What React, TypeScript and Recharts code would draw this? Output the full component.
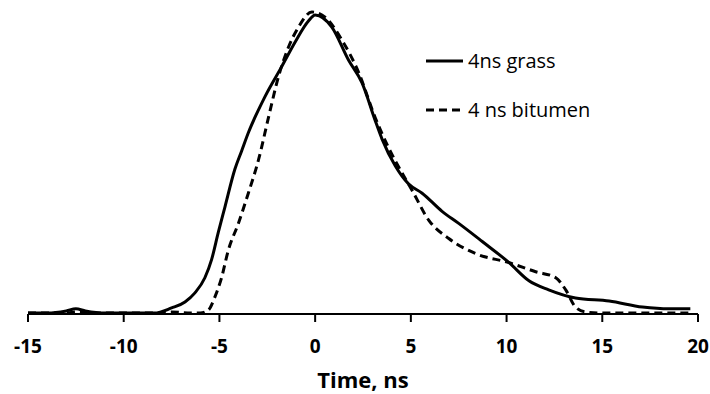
import { LineChart, Line, XAxis, YAxis } from "recharts";

// time axis (ns) and normalised amplitude
const grassTime = [
  -15, -14, -13, -12.5, -12, -11, -10, -9, -8.4, -7.5, -6.8, -6.28, -5.76, -5.41, -5.06, -4.71,
  -4.19, -3.84, -3.49, -2.62, -1.74, -1.05, -0.35, 0, 0.87, 1.75, 2.45, 3.14, 3.49, 4.19, 4.89,
  5.59, 6.63, 7.5, 8.73, 10.13, 11.17, 12.2, 13.6, 15.36, 17.1, 18.5, 19.6,
];
const grassValue = [
  0.003, 0.003, 0.01, 0.017, 0.01, 0.003, 0.003, 0.003, 0.003, 0.02, 0.04, 0.07, 0.12, 0.18, 0.27,
  0.355, 0.48, 0.54, 0.6, 0.72, 0.82, 0.9, 0.97, 0.99, 0.95, 0.84, 0.765, 0.64, 0.58, 0.49, 0.43,
  0.4, 0.34, 0.3, 0.24, 0.17, 0.11, 0.08, 0.053, 0.043, 0.023, 0.017, 0.017,
];

const bitumenTime = [
  -15, -13, -12.5, -11, -9, -8, -7.5, -6.5, -6, -5.58, -5.24, -4.89, -4.54, -4.01, -3.49, -2.96,
  -2.44, -1.92, -1.39, -0.87, -0.17, 0.52, 1.4, 2.27, 3.14, 3.84, 4.54, 5.06, 5.94, 6.98, 8.38,
  10.13, 11.52, 12.57, 13.09, 13.6, 14.1, 15, 17, 19.6,
];
const bitumenValue = [
  0.003, 0.003, 0.007, 0.003, 0.003, 0.003, 0.007, 0.003, 0.003, 0.013, 0.056, 0.12, 0.21, 0.3,
  0.4, 0.51, 0.65, 0.785, 0.884, 0.95, 1.0, 0.983, 0.907, 0.8, 0.65, 0.55, 0.467, 0.41, 0.31, 0.25,
  0.2, 0.17, 0.14, 0.12, 0.08, 0.023, 0.007, 0.003, 0.003, 0.003,
];

const xTicks = [-15, -10, -5, 0, 5, 10, 15, 20];

const grassData = grassTime.map((t, i) => ({ t, v: grassValue[i] }));
const bitumenData = bitumenTime.map((t, i) => ({ t, v: bitumenValue[i] }));

const FONT = "'Open Sans', sans-serif";

// legend drawn on top of the chart, so it doesn't shrink the plot area
const LegendRow = ({ top, dashed, text }: { top: number; dashed?: boolean; text: string }) => (
  <div style={{ position: "absolute", left: 424, top, display: "flex", alignItems: "center", height: 28 }}>
    <svg width={41} height={10}>
      <line
        x1={2}
        y1={5}
        x2={39}
        y2={5}
        stroke="#000"
        strokeWidth={3}
        strokeDasharray={dashed ? "8 5" : undefined}
      />
    </svg>
    <span style={{ marginLeft: 3, fontFamily: FONT, fontSize: 20, color: "#000", lineHeight: "28px" }}>
      {text}
    </span>
  </div>
);

export default function App() {
  return (
    <div style={{ position: "absolute", left: 0, top: 0, width: 710, height: 394, background: "#fff" }}>
      <LineChart width={710} height={394} margin={{ top: 12, right: 12, bottom: 6, left: 28 }}>
        <XAxis
          type="number"
          dataKey="t"
          domain={[-15, 20]}
          ticks={xTicks}
          allowDataOverflow
          stroke="#000"
          strokeWidth={2}
          tickSize={8}
          height={74}
          tick={{ fill: "#000", fontFamily: FONT, fontWeight: 700, fontSize: 19, dy: 16 }}
          label={{
            value: "Time, ns",
            position: "insideBottom",
            offset: 0,
            fill: "#000",
            fontFamily: FONT,
            fontWeight: 700,
            fontSize: 22,
          }}
        />
        <YAxis type="number" domain={[0, 1]} hide />
        <Line
          data={grassData}
          dataKey="v"
          type="monotone"
          stroke="#000"
          strokeWidth={3}
          dot={false}
          isAnimationActive={false}
        />
        <Line
          data={bitumenData}
          dataKey="v"
          type="monotone"
          stroke="#000"
          strokeWidth={3}
          strokeDasharray="8 5"
          dot={false}
          isAnimationActive={false}
        />
      </LineChart>
      <LegendRow top={47} text="4ns grass" />
      <LegendRow top={96} dashed text="4 ns bitumen" />
    </div>
  );
}
